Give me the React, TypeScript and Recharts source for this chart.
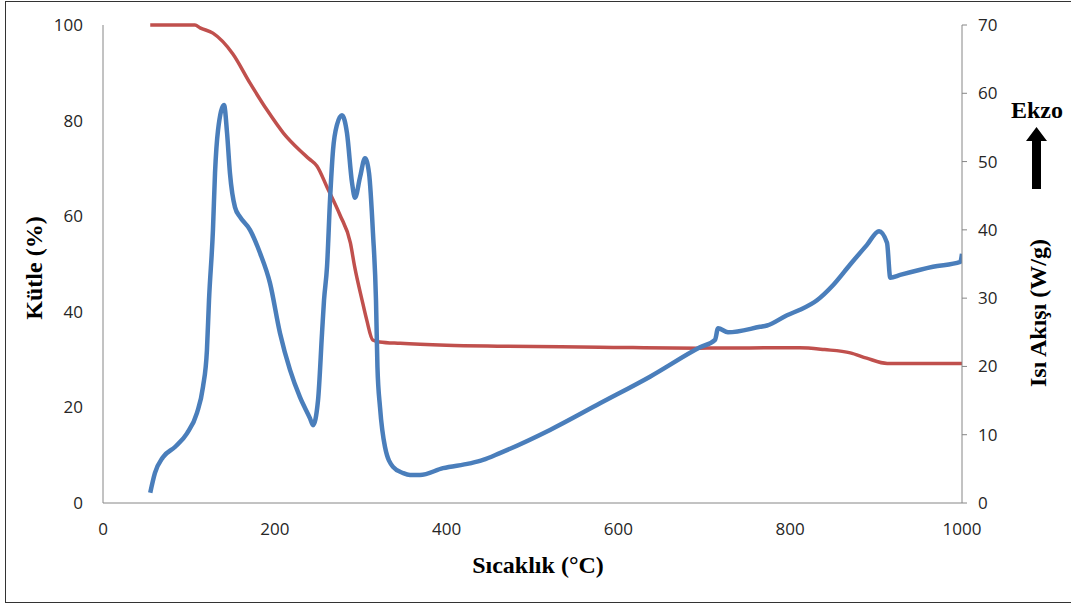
import { ComposedChart, Line, XAxis, YAxis } from "recharts";

// temperature (°C) / mass (%)
const massT = [55, 107, 113, 128, 151, 171, 191, 210, 229, 240, 249, 261, 276, 288, 293, 301.5, 307, 314, 322, 346, 400, 462, 578, 695, 811, 840, 870, 889, 913, 1000];
const massV = [100, 100, 99.4, 98.3, 94, 87.9, 82.2, 77.4, 73.8, 72, 70.5, 66, 60.2, 54.4, 49.4, 42.5, 38.3, 34.1, 33.7, 33.4, 33.0, 32.8, 32.6, 32.4, 32.5, 32.1, 31.4, 30.3, 29.2, 29.2];

// temperature (°C) / heat flow (W/g)
const heatT = [55, 60.5, 69.8, 83.8, 97.8, 109.4, 116.4, 121, 123.4, 128, 130.4, 133.9, 140.9, 144.4, 147.8, 153.7, 159.5, 171.1, 182.8, 194.4, 206, 217.7, 229.3, 241, 244.5, 250.3, 255, 257.3, 260.8, 264.3, 267.8, 272.4, 278.2, 284, 289.9, 293.4, 299.2, 305, 309.7, 314.3, 317.8, 319.5, 322.5, 328.3, 337.6, 349.2, 357.4, 369, 395.8, 427, 442.4, 462, 520.4, 578.6, 636.8, 695, 712.5, 716, 727.6, 764.8, 773, 796.3, 811.4, 831.2, 849.8, 869.6, 889.4, 903.4, 912.7, 916.5, 928, 966.2, 998, 1000];
const heatV = [1.5, 4.4, 6.7, 8.2, 10.2, 13.2, 17, 22.4, 29.7, 40, 48.3, 54.6, 58.3, 54.2, 48.3, 43.3, 41.9, 40, 36.6, 32.2, 24.9, 19.5, 15.5, 12.4, 11.4, 15, 24.9, 29.7, 34.6, 44.4, 51.7, 55.4, 56.8, 54.2, 46.9, 44.7, 47.7, 50.5, 48.3, 39.5, 29.7, 19.9, 14, 8.2, 5.3, 4.4, 4.1, 4.1, 5.1, 5.8, 6.3, 7.3, 10.7, 14.6, 18.5, 22.8, 23.9, 25.6, 25, 25.8, 26, 27.5, 28.3, 29.7, 31.9, 34.9, 37.8, 39.8, 38.1, 33, 33.4, 34.6, 35.3, 36.5];

const xTicks = [0, 200, 400, 600, 800, 1000];
const massTicks = [0, 20, 40, 60, 80, 100];
const heatTicks = [0, 10, 20, 30, 40, 50, 60, 70];

const massData = massT.map((t, i) => ({ t, v: massV[i] }));
const heatData = heatT.map((t, i) => ({ t, v: heatV[i] }));

const tickFont = { fontFamily: "'Open Sans', sans-serif", fontSize: 17, fill: "#262626" };
const titleFont: React.CSSProperties = {
  position: "absolute",
  fontFamily: "'Liberation Serif', serif",
  fontWeight: "bold",
  fontSize: 24,
  color: "#000",
  whiteSpace: "nowrap",
  lineHeight: 1,
};

export default function App() {
  return (
    <div style={{ position: "absolute", left: 0, top: 0, width: 1071, height: 605, background: "#fff", overflow: "hidden" }}>
      <div style={{ position: "absolute", left: 5, top: 1, width: 1080, height: 602, border: "1.5px solid #333", boxSizing: "border-box" }} />
      <ComposedChart width={1071} height={605} margin={{ top: 25, right: 0, bottom: 0, left: 0 }}>
        <XAxis
          xAxisId="x"
          type="number"
          dataKey="t"
          domain={[0, 1000]}
          ticks={xTicks}
          allowDataOverflow
          height={102}
          tickLine={false}
          tickSize={0}
          tickMargin={20}
          axisLine={{ stroke: "#868686" }}
          tick={tickFont}
        />
        <YAxis
          yAxisId="mass"
          orientation="left"
          domain={[0, 100]}
          ticks={massTicks}
          width={103}
          tickLine={false}
          tickSize={0}
          tickMargin={20}
          axisLine={{ stroke: "#868686" }}
          tick={tickFont}
        />
        <YAxis
          yAxisId="heat"
          orientation="right"
          domain={[0, 70]}
          ticks={heatTicks}
          width={109}
          tickSize={5}
          tickMargin={11}
          tickLine={{ stroke: "#868686" }}
          axisLine={{ stroke: "#868686" }}
          tick={{ ...tickFont, textAnchor: "start" }}
        />
        <Line
          xAxisId="x"
          yAxisId="mass"
          data={massData}
          dataKey="v"
          type="monotone"
          stroke="#C0504D"
          strokeWidth={3.5}
          dot={false}
          isAnimationActive={false}
        />
        <Line
          xAxisId="x"
          yAxisId="heat"
          data={heatData}
          dataKey="v"
          type="monotone"
          stroke="#4A7EBB"
          strokeWidth={4.5}
          dot={false}
          isAnimationActive={false}
        />
      </ComposedChart>
      <div style={{ ...titleFont, left: 538, top: 565, transform: "translate(-50%, -50%)" }}>Sıcaklık (°C)</div>
      <div style={{ ...titleFont, left: 34, top: 268, transform: "translate(-50%, -50%) rotate(-90deg)" }}>Kütle (%)</div>
      <div style={{ ...titleFont, left: 1038, top: 313, transform: "translate(-50%, -50%) rotate(-90deg)" }}>Isı Akışı (W/g)</div>
      <div style={{ ...titleFont, left: 1037, top: 110, transform: "translate(-50%, -50%)" }}>Ekzo</div>
      <svg style={{ position: "absolute", left: 0, top: 0 }} width={1071} height={605}>
        <polygon points="1036.5,127 1047,141 1041,141 1041,189 1032,189 1032,141 1026,141" fill="#000" />
      </svg>
    </div>
  );
}
